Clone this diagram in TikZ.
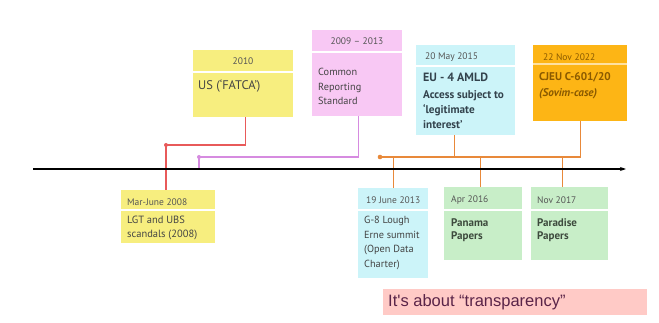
\documentclass[tikz,border=0pt]{standalone}
\usepackage{fontspec}
\setmainfont{PT Sans}
\newfontfamily\arialf{Liberation Sans}
\usetikzlibrary{arrows.meta}
\definecolor{cyellow}{HTML}{F7EE7F}
\definecolor{cpink}{HTML}{F8C8F4}
\definecolor{ccyan}{HTML}{CCF4F9}
\definecolor{corange}{HTML}{FDB515}
\definecolor{cgreen}{HTML}{C8EEC8}
\definecolor{csalmon}{HTML}{FFCAC6}
\definecolor{lred}{HTML}{E85A5A}
\definecolor{lpink}{HTML}{D68BE0}
\definecolor{lorange}{HTML}{E8893A}
\definecolor{hdrgray}{HTML}{555555}
\definecolor{bodygray}{HTML}{444444}
\definecolor{cyantext}{HTML}{33434D}
\definecolor{orangetext}{HTML}{8A5A00}
\definecolor{greentext}{HTML}{3D4A3D}
\definecolor{trtext}{HTML}{5A2448}
\begin{document}
\begin{tikzpicture}[x=1pt,y=-1pt,
  card/.style={draw=none, inner sep=0, anchor=north west},
  hdr/.style={inner sep=0, anchor=west, font=\fontsize{9.5}{12}\selectfont, text=hdrgray},
  bodytext/.style={inner sep=0, anchor=north west, align=left, font=\fontsize{10.3}{14.6}\selectfont, text=bodygray},
  boldtext/.style={bodytext, font=\bfseries\fontsize{11.2}{15}\selectfont},
  sepline/.style={white, line width=1.2pt},
  conn/.style={line width=1.1pt},
  tline/.style={line width=1.2pt, black, -{Stealth[length=6pt,width=4pt]}}
]
\useasboundingbox (0,0) rectangle (659,323);
\fill[white] (0,0) rectangle (659,323);

% ---- boxes ----
\node[card, fill=cyellow, minimum width=100pt, minimum height=67pt] (b2010) at (193,50) {};
\draw[sepline] (193,72) -- (293,72);
\node[hdr, anchor=center] (h2010) at (243,61) {2010};
\node[bodytext, font=\fontsize{12.5}{15}\selectfont] (t2010) at (198,80) {US (‘FATCA’)};

\node[card, fill=cpink, minimum width=90pt, minimum height=86pt] (bcrs) at (312,30) {};
\draw[sepline] (312,52) -- (402,52);
\node[hdr, anchor=center] (hcrs) at (357,41) {2009 – 2013};
\node[bodytext] (tcrs) at (318,68) {Common\\Reporting\\Standard};

\node[card, fill=ccyan, minimum width=99pt, minimum height=90pt] (bamld) at (416,45) {};
\draw[sepline] (416,66) -- (515,66);
\node[hdr] (hamld) at (425,57) {20 May 2015};
\node[boldtext, font=\bfseries\fontsize{12}{15}\selectfont, text=cyantext] (tamld) at (423,72.5) {EU - 4 AMLD};
\node[boldtext, text=cyantext] (tamld2) at (423,90.5) {Access subject to\\‘legitimate\\interest’};

\node[card, fill=corange, minimum width=94pt, minimum height=76pt] (bcjeu) at (533,45) {};
\draw[sepline, white!60!corange] (533,64) -- (627,64);
\node[hdr, text=orangetext] (hcjeu) at (543,57) {22 Nov 2022};
\node[boldtext, font=\bfseries\fontsize{11.2}{16}\selectfont, text=orangetext] (tcjeu) at (539,72.5) {CJEU C-601/20\\\textit{(Sovim-case)}};

\node[card, fill=cyellow, minimum width=94pt, minimum height=53pt] (b2008) at (121,190) {};
\draw[sepline] (121,210) -- (215,210);
\node[hdr] (h2008) at (127,202) {Mar-June 2008};
\node[bodytext, font=\fontsize{10.5}{14}\selectfont] (t2008) at (127,216) {LGT and UBS\\scandals (2008)};

\node[card, fill=ccyan, minimum width=70pt, minimum height=90pt] (b2013) at (358,188) {};
\draw[sepline] (358,210) -- (428,210);
\node[hdr] (h2013) at (366,200) {19 June 2013};
\node[bodytext] (t2013) at (364,216) {G-8 Lough\\Erne summit\\(Open Data\\Charter)};

\node[card, fill=cgreen, minimum width=78pt, minimum height=73pt] (bpan) at (444,187) {};
\draw[sepline] (444,210) -- (522,210);
\node[hdr] (hpan) at (451,200) {Apr 2016};
\node[boldtext, font=\bfseries\fontsize{11}{13}\selectfont, text=greentext] (tpan) at (451,218) {Panama\\Papers};

\node[card, fill=cgreen, minimum width=77pt, minimum height=73pt] (bpar) at (531,187) {};
\draw[sepline] (531,210) -- (608,210);
\node[hdr] (hpar) at (537,200) {Nov 2017};
\node[boldtext, font=\bfseries\fontsize{11}{13}\selectfont, text=greentext] (tpar) at (537,218) {Paradise\\Papers};

\node[card, fill=csalmon, minimum width=264pt, minimum height=26pt] (btr) at (383,289) {};
\node[inner sep=0, anchor=west, font=\arialf\fontsize{16.5}{18}\selectfont, text=trtext] (ttr) at (388,302) {It's about “transparency”};

% ---- connectors ----
\coordinate (tl0) at (33,169);
\coordinate (tl1) at (626,169);
\coordinate (rdot) at (166,145);
\coordinate (pdot) at (199,157);
\coordinate (odot) at (380,157);

\draw[conn, lred] ([xshift=2pt]b2010.south) |- (rdot) -- (rdot |- b2008.north);
\fill[lred] (rdot) circle (2pt);

\draw[conn, lpink] ([xshift=1pt]bcrs.south) |- (pdot) -- (pdot |- tl0);
\fill[lpink] (pdot) circle (2pt);

\draw[conn, lorange] (odot) -- (bcjeu.south |- odot) -- (bcjeu.south);
\draw[conn, lorange] ([xshift=-11.5pt]bamld.south) -- ([xshift=-11.5pt]bamld.south |- odot);
\draw[conn, lorange] (b2013.north |- odot) -- (b2013.north);
\draw[conn, lorange] ([xshift=-3pt]bpan.north |- odot) -- ([xshift=-3pt]bpan.north);
\draw[conn, lorange] ([xshift=-7.5pt]bpar.north |- odot) -- ([xshift=-7.5pt]bpar.north);
\fill[lorange] (odot) circle (2.3pt);

\draw[tline] (tl0) -- (tl1);
\end{tikzpicture}
\end{document}
